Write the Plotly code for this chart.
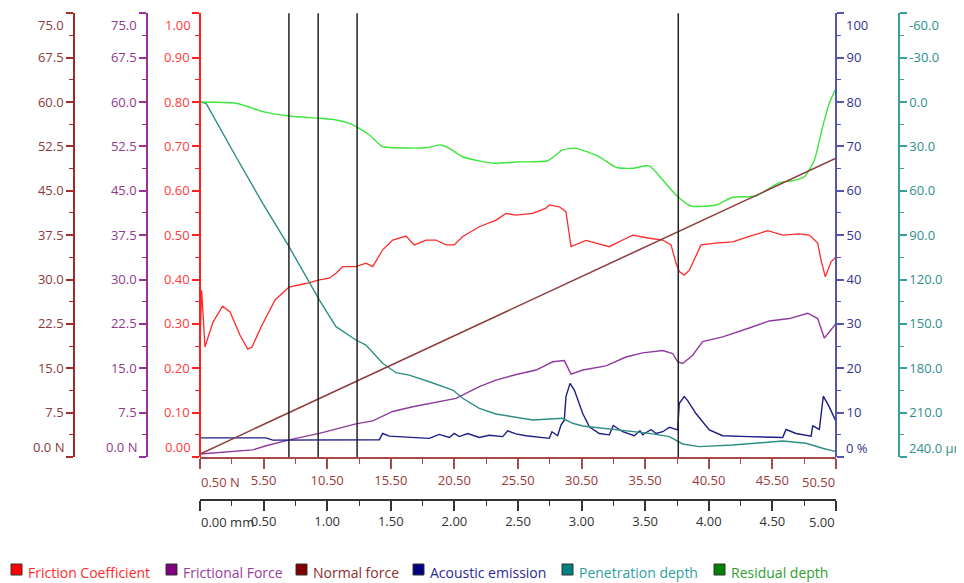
import plotly.graph_objects as go

W, H = 964, 583          # browser window
OFF = 8                  # default page margin around the plot div
FW, FH = W - OFF, H - OFF

# ---------------- data (x in mm along the scratch) ----------------
fc_x = [0.000, 0.013, 0.039, 0.102, 0.178, 0.236, 0.314, 0.375, 0.409, 0.487,
        0.590, 0.676, 0.700, 0.833, 0.938, 1.017, 1.069, 1.122, 1.226, 1.305,
        1.358, 1.436, 1.515, 1.619, 1.685, 1.777, 1.855, 1.934, 1.999, 2.065,
        2.196, 2.327, 2.406, 2.484, 2.616, 2.720, 2.746, 2.825, 2.877, 2.917,
        3.035, 3.113, 3.218, 3.323, 3.402, 3.532, 3.638, 3.703, 3.742, 3.768,
        3.807, 3.847, 3.939, 4.057, 4.188, 4.318, 4.463, 4.581, 4.711, 4.790,
        4.856, 4.882, 4.916, 4.961, 5.000]
fc_y = [0.252, 0.376, 0.248, 0.304, 0.340, 0.327, 0.275, 0.243, 0.248, 0.297,
        0.354, 0.376, 0.383, 0.391, 0.399, 0.403, 0.414, 0.429, 0.429, 0.437,
        0.429, 0.467, 0.489, 0.498, 0.478, 0.489, 0.489, 0.478, 0.478, 0.497,
        0.519, 0.534, 0.549, 0.545, 0.549, 0.561, 0.568, 0.564, 0.553, 0.474,
        0.488, 0.482, 0.474, 0.489, 0.500, 0.493, 0.489, 0.478, 0.437, 0.418,
        0.410, 0.421, 0.478, 0.482, 0.485, 0.497, 0.510, 0.500, 0.503, 0.500,
        0.482, 0.444, 0.406, 0.440, 0.451]

ff_x = [0.000, 0.228, 0.414, 0.519, 0.702, 0.938, 1.226, 1.358, 1.515, 1.672,
        1.855, 2.013, 2.196, 2.327, 2.479, 2.642, 2.773, 2.864, 2.917, 3.009,
        3.192, 3.349, 3.480, 3.638, 3.716, 3.755, 3.795, 3.873, 3.952, 4.109,
        4.318, 4.476, 4.633, 4.778, 4.856, 4.908, 4.961, 5.000]
ff_y = [0.5, 0.9, 1.2, 1.9, 2.9, 4.0, 5.6, 6.1, 7.7, 8.5,
        9.3, 9.9, 11.9, 13.0, 13.9, 14.7, 16.1, 16.3, 14.0, 14.7,
        15.4, 16.9, 17.6, 18.0, 17.5, 16.1, 15.8, 17.2, 19.5, 20.3,
        21.8, 23.0, 23.4, 24.3, 23.4, 20.1, 21.5, 22.6]

nf_x = [0.5, 50.5]   # N
nf_y = [0.5, 50.5]   # N

ae_x = [0.000, 0.519, 0.572, 1.410, 1.436, 1.488, 1.803, 1.881, 1.960, 1.999,
        2.038, 2.105, 2.196, 2.274, 2.380, 2.419, 2.484, 2.563, 2.746, 2.767,
        2.812, 2.838, 2.864, 2.877, 2.909, 2.943, 3.009, 3.061, 3.139, 3.218,
        3.249, 3.323, 3.414, 3.459, 3.480, 3.546, 3.585, 3.638, 3.690, 3.755,
        3.768, 3.807, 3.834, 3.899, 4.004, 4.109, 4.318, 4.581, 4.607, 4.686,
        4.804, 4.817, 4.869, 4.900, 4.947, 5.000]
ae_y = [4.3, 4.3, 3.8, 3.9, 5.3, 4.7, 4.2, 5.1, 4.4, 5.3,
        4.6, 5.3, 4.4, 4.9, 4.6, 5.9, 5.2, 4.8, 4.2, 5.7,
        4.8, 7.2, 8.3, 13.6, 16.6, 15.1, 9.8, 6.8, 5.3, 5.0,
        7.1, 5.7, 4.8, 5.9, 5.0, 6.2, 5.3, 5.7, 6.7, 6.1,
        12.1, 13.6, 12.7, 9.8, 6.1, 4.8, 4.6, 4.4, 6.2, 5.3,
        4.7, 7.0, 6.2, 13.7, 11.3, 8.0]

pd_x = [0.000, 0.047, 0.283, 0.493, 0.700, 0.807, 0.938, 1.069, 1.226, 1.305,
        1.436, 1.541, 1.645, 1.803, 1.987, 2.065, 2.196, 2.327, 2.484, 2.616,
        2.851, 2.930, 3.009, 3.270, 3.532, 3.690, 3.795, 3.925, 4.188, 4.581,
        4.764, 4.895, 5.000]
pd_y = [0.0, 0.8, 37.0, 68.5, 97.8, 113.6, 133.8, 151.9, 160.9, 164.3,
        176.6, 183.0, 184.6, 189.1, 194.7, 200.3, 207.1, 210.9, 213.1, 215.0,
        213.8, 217.2, 219.0, 221.7, 224.0, 226.2, 231.2, 233.0, 231.9, 229.2,
        230.7, 234.1, 236.4]

rd_x = [0.000, 0.283, 0.362, 0.493, 0.702, 0.938, 1.069, 1.174, 1.252, 1.331,
        1.436, 1.541, 1.777, 1.895, 1.960, 2.065, 2.222, 2.327, 2.484, 2.733,
        2.851, 2.956, 3.139, 3.270, 3.402, 3.532, 3.638, 3.742, 3.860, 4.057,
        4.188, 4.371, 4.554, 4.660, 4.751, 4.830, 4.895, 4.947, 5.000]
rd_y = [0.0, 0.8, 2.7, 6.5, 9.4, 11.0, 12.1, 14.4, 17.8, 22.3,
        30.2, 30.9, 30.9, 29.0, 31.3, 37.0, 40.3, 41.4, 40.5, 39.7,
        32.4, 31.3, 37.0, 44.1, 44.8, 43.2, 52.7, 62.8, 70.3, 69.6,
        64.4, 63.5, 54.5, 53.2, 50.5, 39.2, 16.7, 0.8, -9.3]

marker_mm = [0.699, 0.929, 1.235, 3.760]

# ---------------- ticks ----------------
cf_ticks = [0.0, 0.1, 0.2, 0.3, 0.4, 0.5, 0.6, 0.7, 0.8, 0.9, 1.0]
cf_text = ["", "0.10", "0.20", "0.30", "0.40", "0.50", "0.60", "0.70", "0.80", "0.90", ""]
force_ticks = [0, 7.5, 15, 22.5, 30, 37.5, 45, 52.5, 60, 67.5, 75]
force_text = ["", "7.5", "15.0", "22.5", "30.0", "37.5", "45.0", "52.5", "60.0", "67.5", ""]
ae_ticks = [0, 10, 20, 30, 40, 50, 60, 70, 80, 90, 100]
ae_text = ["", "10", "20", "30", "40", "50", "60", "70", "80", "90", ""]
pd_ticks = [-60, -30, 0, 30, 60, 90, 120, 150, 180, 210, 240]
pd_text = ["", "-30.0", "0.0", "30.0", "60.0", "90.0", "120.0", "150.0", "180.0", "210.0", ""]
n_ticks = [0.5, 5.5, 10.5, 15.5, 20.5, 25.5, 30.5, 35.5, 40.5, 45.5, 50.5]
n_text = ["", "5.50", "10.50", "15.50", "20.50", "25.50", "30.50", "35.50", "40.50", "45.50", ""]
mm_ticks = [0.0, 0.5, 1.0, 1.5, 2.0, 2.5, 3.0, 3.5, 4.0, 4.5, 5.0]
mm_text = ["", "0.50", "1.00", "1.50", "2.00", "2.50", "3.00", "3.50", "4.00", "4.50", ""]

legend_names = ["Friction Coefficient", "Frictional Force", "Normal force",
                "Acoustic emission", "Penetration depth", "Residual depth"]

# ---------------- styles ----------------
FONT = "Open Sans"
C_FC, C_FF, C_NF, C_AE, C_PD, C_RD = "#FF2A2A", "#8E3A9E", "#8B3A3A", "#1C1C86", "#2E8E86", "#3CE63C"
L_FC, L_FF, L_NF, L_AE, L_PD = "#FF3A3A", "#8E3A8E", "#8B3A3A", "#33338B", "#2E8E8E"
L_N, L_MM = "#9B3A3A", "#333333"


def px(x):
    """window pixel x -> paper fraction"""
    return (x - OFF) / FW


def py(y):
    """window pixel y (from top) -> paper fraction"""
    return 1 - (y - OFF) / FH


XD = [px(200), px(836)]
YD = [py(457), py(13.3)]

fig = go.Figure()
fig.add_trace(go.Scatter(x=pd_x, y=pd_y, xaxis="x", yaxis="y5", mode="lines",
                         line=dict(color=C_PD, width=1.4), name=legend_names[4]))
fig.add_trace(go.Scatter(x=rd_x, y=rd_y, xaxis="x", yaxis="y5", mode="lines",
                         line=dict(color=C_RD, width=1.4, shape="spline", smoothing=0.6),
                         name=legend_names[5]))
fig.add_trace(go.Scatter(x=nf_x, y=nf_y, xaxis="x2", yaxis="y3", mode="lines",
                         line=dict(color=C_NF, width=1.5), name=legend_names[2]))
fig.add_trace(go.Scatter(x=ff_x, y=ff_y, xaxis="x", yaxis="y2", mode="lines",
                         line=dict(color=C_FF, width=1.4), name=legend_names[1]))
fig.add_trace(go.Scatter(x=ae_x, y=ae_y, xaxis="x", yaxis="y4", mode="lines",
                         line=dict(color=C_AE, width=1.4), name=legend_names[3]))
fig.add_trace(go.Scatter(x=fc_x, y=fc_y, xaxis="x", yaxis="y", mode="lines",
                         line=dict(color=C_FC, width=1.3), name=legend_names[0]))


def yax(rng, ticks, text, lcol, tcol, pos, side, lw=1.5):
    return dict(domain=YD, range=rng, anchor="free", position=pos, side=side,
                tickmode="array", tickvals=ticks, ticktext=text,
                ticks="outside", ticklen=7, tickwidth=1.5, tickcolor=lcol,
                showline=True, linecolor=lcol, linewidth=lw,
                showgrid=False, zeroline=False,
                tickfont=dict(family=FONT, size=13, color=tcol),
                minor=dict(ticks="outside", ticklen=4, tickwidth=1.2, tickcolor=lcol,
                           tickmode="linear", tick0=min(rng),
                           dtick=(ticks[1] - ticks[0]) / 2, showgrid=False))


fig.update_layout(
    width=FW, height=FH, autosize=False,
    margin=dict(l=0, r=0, t=0, b=0),
    paper_bgcolor="white", plot_bgcolor="white",
    showlegend=False,
    xaxis=dict(domain=XD, range=[0, 5], anchor="free", position=py(500), side="bottom",
               tickmode="array", tickvals=mm_ticks, ticktext=mm_text,
               ticks="outside", ticklen=10, tickwidth=1.5, tickcolor="#333",
               showline=True, linecolor="#333", linewidth=1.5,
               showgrid=False, zeroline=False,
               tickfont=dict(family=FONT, size=13, color=L_MM),
               minor=dict(ticks="outside", ticklen=5, tickwidth=1.3, tickcolor="#333",
                          tickmode="linear", tick0=0, dtick=0.25, showgrid=False)),
    xaxis2=dict(domain=XD, range=[0.5, 50.5], overlaying="x", anchor="y", side="bottom",
                tickmode="array", tickvals=n_ticks, ticktext=n_text,
                ticks="outside", ticklen=10, tickwidth=1.5, tickcolor="#A84848",
                showline=True, linecolor="#A84848", linewidth=2,
                showgrid=False, zeroline=False,
                tickfont=dict(family=FONT, size=13, color=L_N),
                minor=dict(ticks="outside", ticklen=5, tickwidth=1.3, tickcolor="#A84848",
                           tickmode="linear", tick0=0.5, dtick=2.5, showgrid=False)),
    yaxis=yax([0, 1], cf_ticks, cf_text, "#FF2020", L_FC, px(200), "left"),
    yaxis2=yax([0, 75], force_ticks, force_text, "#9B309B", L_FF, px(147), "left"),
    yaxis3=yax([0, 75], force_ticks, force_text, "#A52A2A", L_NF, px(74), "left"),
    yaxis4=yax([0, 100], ae_ticks, ae_text, "#5555AA", L_AE, px(836), "right", lw=2),
    yaxis5=yax([240, -60], pd_ticks, pd_text, "#3A9E9E", L_PD, px(899), "right"),
)
fig.layout.yaxis2.overlaying = "y"
fig.layout.yaxis3.overlaying = "y"
fig.layout.yaxis4.overlaying = "y"
fig.layout.yaxis5.overlaying = "y"

# vertical marker lines
for m in marker_mm:
    fig.add_shape(type="line", xref="x", yref="paper", x0=m, x1=m, y0=YD[0], y1=YD[1],
                  line=dict(color="#222222", width=1.5))

# edge tick labels (shifted inward as in the reference)
edge = [("1.00", 193, 25, "right", L_FC), ("0.00", 193, 447, "right", L_FC),
        ("75.0", 139, 25, "right", L_FF), ("0.0 N", 139, 447, "right", L_FF),
        ("75.0", 66, 25, "right", L_NF), ("0.0 N", 66, 447, "right", L_NF),
        ("100", 844, 25, "left", L_AE), ("0 %", 844, 448, "left", L_AE),
        ("-60.0", 907, 25, "left", L_PD), ("240.0 μm", 907, 448, "left", L_PD),
        ("0.50 N", 199, 482, "left", L_N), ("50.50", 837, 482, "right", L_N),
        ("0.00 mm", 199, 522, "left", L_MM), ("5.00", 837, 522, "right", L_MM)]
for t, x, y, xa, c in edge:
    fig.add_annotation(text=t, x=px(x), y=py(y), xref="paper", yref="paper",
                       xanchor=xa, yanchor="middle", showarrow=False,
                       font=dict(family=FONT, size=13, color=c))

# legend (swatches + coloured text)
sw_fill = ["#FF0000", "#800080", "#800000", "#000080", "#008080", "#008000"]
sw_text = ["#FF2A2A", "#9B3B9B", "#8B2E2E", "#2A2A90", "#2E9E9E", "#2E9E2E"]
sw_x = [11, 166, 296, 413, 562, 714]
for name, f, tc, x in zip(legend_names, sw_fill, sw_text, sw_x):
    fig.add_shape(type="rect", xref="paper", yref="paper",
                  x0=px(x), x1=px(x + 11), y0=py(575), y1=py(564),
                  fillcolor=f, line=dict(color="#333333", width=1))
    fig.add_annotation(text=name, x=px(x + 15), y=py(572), xref="paper", yref="paper",
                       xanchor="left", yanchor="middle", showarrow=False,
                       font=dict(family=FONT, size=14, color=tc))

fig.write_html("out.html")
